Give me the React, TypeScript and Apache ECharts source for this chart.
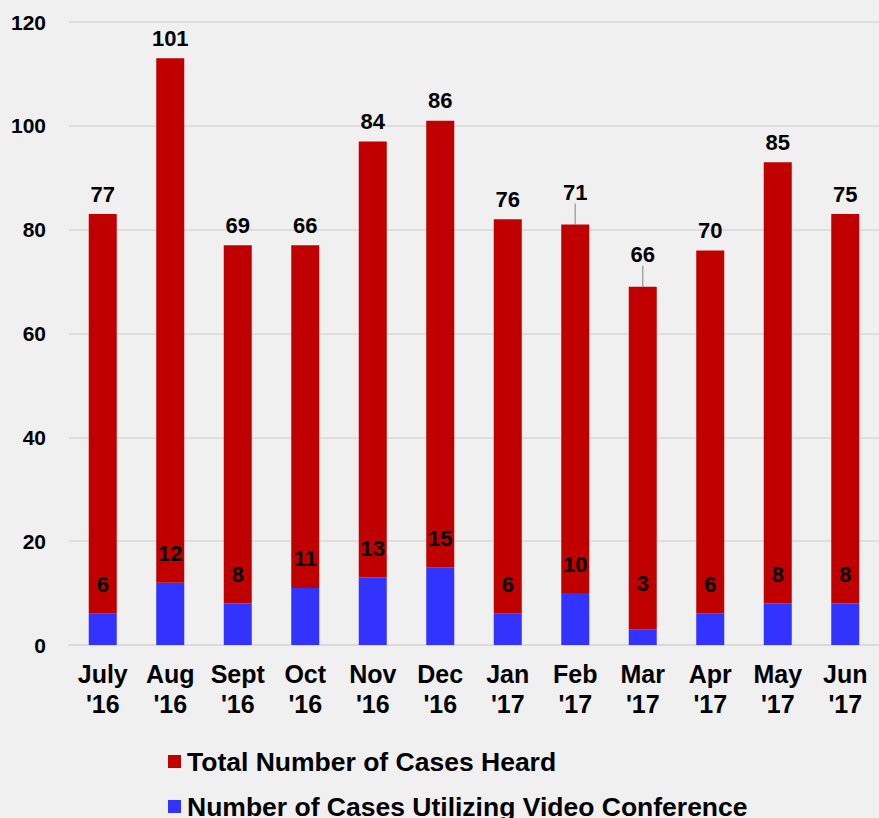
import React, { useEffect, useRef } from "react";
import * as echarts from "echarts";

const categories = ["July\n'16", "Aug\n'16", "Sept\n'16", "Oct\n'16", "Nov\n'16", "Dec\n'16", "Jan\n'17", "Feb\n'17", "Mar\n'17", "Apr\n'17", "May\n'17", "Jun\n'17"];
const totalCasesHeard = [77, 101, 69, 66, 84, 86, 76, 71, 66, 70, 85, 75];
const videoConferenceCases = [6, 12, 8, 11, 13, 15, 6, 10, 3, 6, 8, 8];
const leaderLineMonths = ["Feb\n'17", "Mar\n'17"];
const raisedVideoLabelMonths = ["Mar\n'17"];
const yTicks = { min: 0, max: 120, interval: 20 };

const RED = "#c00000";
const BLUE = "#3333ff";
const FONT = "'Liberation Sans', Arial, sans-serif";
const TOTAL_NAME = "Total Number of Cases Heard";
const VIDEO_NAME = "Number of Cases Utilizing Video Conference";

export default function App() {
  const ref = useRef<HTMLDivElement>(null);
  useEffect(() => {
    if (!ref.current) return;
    const chart = echarts.init(ref.current, null, { renderer: "svg" });
    const leaderIdx = leaderLineMonths.map((m) => categories.indexOf(m));
    const raisedIdx = raisedVideoLabelMonths.map((m) => categories.indexOf(m));
    const legendBase = {
      orient: "vertical",
      left: 168,
      padding: 0,
      itemWidth: 13,
      itemHeight: 13,
      icon: "rect",
      textStyle: { fontSize: 26.5, fontWeight: "bold", color: "#000", fontFamily: FONT, padding: [0, 0, 0, 1] },
    };
    chart.setOption({
      animation: false,
      backgroundColor: "#f0f0f0",
      textStyle: { fontFamily: FONT },
      grid: { left: 69, right: -10, top: 22, bottom: 173, containLabel: false },
      legend: [
        { ...legendBase, top: 748, data: [TOTAL_NAME] },
        { ...legendBase, top: 793, data: [VIDEO_NAME] },
      ],
      xAxis: {
        type: "category",
        data: categories,
        axisLine: { show: true, lineStyle: { color: "#d9d9d9", width: 1.5 } },
        axisTick: { show: false },
        axisLabel: {
          fontSize: 25,
          fontWeight: "bold",
          color: "#000",
          lineHeight: 30,
          margin: 14,
          interval: 0,
          fontFamily: FONT,
        },
      },
      yAxis: {
        type: "value",
        min: yTicks.min,
        max: yTicks.max,
        interval: yTicks.interval,
        axisLine: { show: false },
        axisTick: { show: false },
        splitLine: { lineStyle: { color: "#d9d9d9", width: 1.5 } },
        axisLabel: { fontSize: 21, fontWeight: "bold", color: "#000", margin: 23, fontFamily: FONT },
      },
      series: [
        {
          name: VIDEO_NAME,
          type: "bar",
          stack: "total",
          barWidth: 28,
          itemStyle: { color: BLUE },
          data: videoConferenceCases,
          label: {
            show: true,
            position: "top",
            distance: 18,
            fontSize: 22,
            fontWeight: "bold",
            color: "#000",
            fontFamily: FONT,
          },
          labelLayout: (params: any) =>
            raisedIdx.includes(params.dataIndex) ? { dy: -17 } : {},
        },
        {
          name: TOTAL_NAME,
          type: "bar",
          stack: "total",
          barWidth: 28,
          itemStyle: { color: RED },
          data: totalCasesHeard.map((v, i) =>
            leaderIdx.includes(i)
              ? { value: v, labelLine: { show: true, lineStyle: { color: "#a6a6a6", width: 1.5 } } }
              : { value: v, labelLine: { show: false } }
          ),
          label: {
            show: true,
            position: "top",
            distance: 9,
            fontSize: 22,
            fontWeight: "bold",
            color: "#000",
            fontFamily: FONT,
          },
          labelLine: { show: false, lineStyle: { color: "#a6a6a6", width: 1.5 } },
          labelLayout: (params: any) =>
            leaderIdx.includes(params.dataIndex) ? { dy: -12 } : {},
        },
      ],
    });
    return () => chart.dispose();
  }, []);
  return <div ref={ref} style={{ width: 879, height: 818, position: "absolute", left: 0, top: 0 }} />;
}
